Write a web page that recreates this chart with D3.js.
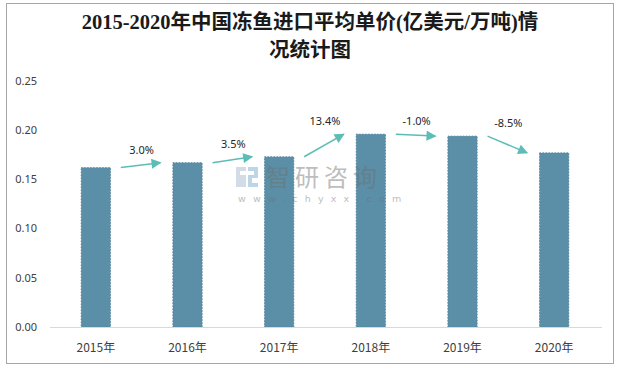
<!DOCTYPE html>
<html><head><meta charset="utf-8">
<script src="https://cdn.jsdelivr.net/npm/d3@7"></script>
<style>body{margin:0;background:#fff;}svg{display:block;}</style>
</head><body>
<script>
const categories = ["2015年","2016年","2017年","2018年","2019年","2020年"];
const values = [0.162, 0.167, 0.173, 0.196, 0.194, 0.177];
const growthLabels = ["3.0%","3.5%","13.4%","-1.0%","-8.5%"];
const yTicks = [0, 0.05, 0.10, 0.15, 0.20, 0.25];
const titleLines = ["2015-2020年中国冻鱼进口平均单价(亿美元/万吨)情","况统计图"];

const W = 617, H = 368;
const svg = d3.select("body").append("svg").attr("width", W).attr("height", H);
svg.append("rect").attr("x",6.5).attr("y",3.5).attr("width",607).attr("height",360)
  .attr("fill","#fff").attr("stroke","#a6a6a6").attr("stroke-width",1);

const x = d3.scaleBand().domain(categories).range([50, 600]).paddingInner(0.68).paddingOuter(0.34);
const y = d3.scaleLinear().domain([0, 0.25]).range([327, 81]);

// title
svg.append("g").selectAll("text").data(titleLines).join("text")
  .attr("x", 310).attr("y", (d,i)=>29 + i*28)
  .attr("text-anchor","middle")
  .attr("font-family","'Liberation Serif','Noto Sans CJK SC',serif")
  .attr("font-weight","bold").attr("font-size",20.5).attr("fill","#1a1a1a")
  .text(d=>d);

// y axis labels
svg.append("g").selectAll("text").data(yTicks).join("text")
  .attr("x", 37).attr("y", d=>y(d)).attr("dy","0.35em")
  .attr("text-anchor","end")
  .attr("font-family","'Noto Sans','DejaVu Sans',sans-serif")
  .attr("font-size",11).attr("fill","#404040")
  .text(d=>d3.format(".2f")(d));

// bars
svg.append("g").selectAll("rect").data(values).join("rect")
  .attr("x",(d,i)=>x(categories[i])).attr("y",d=>y(d))
  .attr("width",x.bandwidth()).attr("height",d=>y(0)-y(d))
  .attr("fill","#5b8fa8")
  .attr("stroke","#4d7f98").attr("stroke-width",0.8).attr("stroke-dasharray","1.5,1.5");

// baseline
svg.append("line").attr("x1",50).attr("x2",602).attr("y1",y(0)+0.5).attr("y2",y(0)+0.5)
  .attr("stroke","#d9d9d9").attr("stroke-width",1);

// x labels
svg.append("g").selectAll("text").data(categories).join("text")
  .attr("x",d=>x(d)+x.bandwidth()/2).attr("y",352)
  .attr("text-anchor","middle")
  .attr("font-family","'Noto Sans CJK SC',sans-serif")
  .attr("font-size",12).attr("fill","#404040").text(d=>d);

// watermark (on top, translucent)
const wm = svg.append("g").attr("opacity",0.45);
wm.append("path").attr("d","M236,167 h10 v4 h-6 v4 h6 v12 h-10 z").attr("fill","#9fb0cc");
wm.append("path").attr("d","M248,167 h10 v11 h-6 v5 h6 v4 h-10 v-12 h6 v-4 h-6 z").attr("fill","#6fa3d0");
wm.append("text").attr("x",266).attr("y",186).attr("font-family","'Noto Sans CJK SC'")
  .attr("font-size",24).attr("fill","#6e6e6e").attr("letter-spacing",5).text("智研咨询");
wm.append("text").attr("x",238).attr("y",202).attr("font-family","'DejaVu Sans'")
  .attr("font-size",9.5).attr("fill","#6e6e6e").attr("letter-spacing",7.2).text("www.chyxx.com");

// arrows
const defs = svg.append("defs");
defs.append("marker").attr("id","ah").attr("viewBox","0 0 10 10").attr("refX",9).attr("refY",5)
  .attr("markerWidth",12).attr("markerHeight",10).attr("orient","auto").attr("markerUnits","userSpaceOnUse")
  .append("path").attr("d","M0,0 L10,5 L0,10 z").attr("fill","#5bbdb5");

const cx = i => x(categories[i]) + x.bandwidth()/2;
const arrows = growthLabels.map((lab,i)=>({
  x1: cx(i)+25, y1: y(values[i]), x2: cx(i+1)-27, y2: y(values[i+1]), lab
}));
svg.append("g").selectAll("line").data(arrows).join("line")
  .attr("x1",d=>d.x1).attr("y1",d=>d.y1).attr("x2",d=>d.x2).attr("y2",d=>d.y2)
  .attr("stroke","#5bbdb5").attr("stroke-width",1.5).attr("marker-end","url(#ah)");
svg.append("g").selectAll("text").data(arrows).join("text")
  .attr("x",d=>(d.x1+d.x2)/2 + 1).attr("y",d=>Math.min(d.y1,d.y2) - 9)
  .attr("text-anchor","middle")
  .attr("font-family","'Noto Sans','DejaVu Sans',sans-serif")
  .attr("font-size",11).attr("fill","#262626").text(d=>d.lab);
</script>
</body></html>
